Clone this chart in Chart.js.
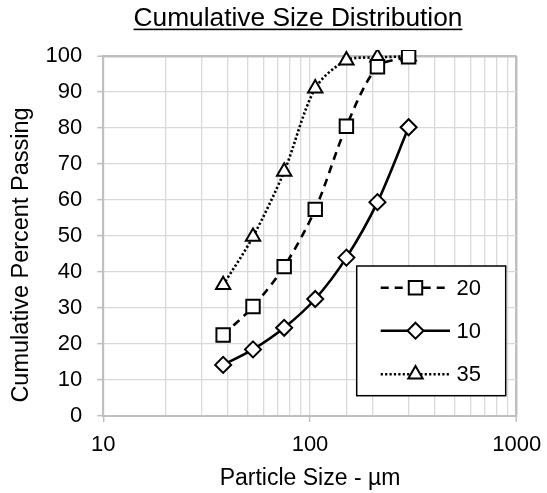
<!DOCTYPE html>
<html><head><meta charset="utf-8">
<script src="https://cdn.jsdelivr.net/npm/chart.js@4.4.1/dist/chart.umd.min.js"></script>
<style>html,body{margin:0;padding:0;background:#fff}#wrap{width:547px;height:493px;position:relative}</style>
</head><body><div id="wrap"><canvas id="c"></canvas></div>
<script>
// ---- data ----
const sizes = [38, 53, 75, 106, 150, 212, 300];          // particle size, µm
const seriesNames = ['20', '10', '35'];
const series20 = [22.5, 30.4, 41.5, 57.4, 80.5, 97.0, 99.8];
const series10 = [14.2, 18.5, 24.5, 32.5, 44.0, 59.4, 80.2];
const series35 = [36.4, 49.8, 67.9, 91.0, 98.8, 99.6, 99.9];
const xTickLabels = [10, 100, 1000];
const yMin = 0, yMax = 100, yStep = 10;
const chartTitle = 'Cumulative Size Distribution';
const xTitle = 'Particle Size - µm';
const yTitle = 'Cumulative Percent Passing';

const FONT = '"Liberation Sans", Arial, sans-serif';
const GRID = '#d9d9d9', AXIS = '#bfbfbf';

function pts(vals) { return sizes.map((x, i) => ({ x: x, y: vals[i] })); }

const styles = [
  { dash: [8, 6], point: 'rect', radius: 9.5 },
  { dash: [], point: 'rectRot', radius: 8 },
  { dash: [2.2, 2.2], point: 'triangle', radius: 8.3 }
];
const allSeries = [series20, series10, series35];

const datasets = allSeries.map((vals, i) => ({
  label: seriesNames[i],
  data: pts(vals),
  showLine: true,
  borderColor: '#000',
  borderWidth: 2.6,
  borderDash: styles[i].dash,
  tension: 0.3,
  pointStyle: styles[i].point,
  pointRadius: styles[i].radius,
  pointHoverRadius: styles[i].radius,
  pointBackgroundColor: '#fff',
  pointBorderColor: '#000',
  pointBorderWidth: 2,
  clip: 6
}));

function drawMarker(ctx, style, r, x, y) {
  ctx.beginPath();
  if (style === 'rect') {
    const s = Math.SQRT1_2 * r;
    ctx.rect(x - s, y - s, 2 * s, 2 * s);
  } else if (style === 'rectRot') {
    ctx.moveTo(x, y - r); ctx.lineTo(x + r, y); ctx.lineTo(x, y + r); ctx.lineTo(x - r, y); ctx.closePath();
  } else {
    const a = Math.PI / 6;
    ctx.moveTo(x, y - r);
    ctx.lineTo(x + r * Math.cos(a), y + r * Math.sin(a));
    ctx.lineTo(x - r * Math.cos(a), y + r * Math.sin(a));
    ctx.closePath();
  }
  ctx.fillStyle = '#fff'; ctx.fill();
  ctx.setLineDash([]); ctx.lineWidth = 2; ctx.strokeStyle = '#000'; ctx.stroke();
}

const decor = {
  id: 'decor',
  afterDraw(chart) {
    const ctx = chart.ctx;
    ctx.save();
    // title, underlined
    ctx.font = '26.3px ' + FONT;
    ctx.fillStyle = '#000';
    ctx.textAlign = 'center';
    ctx.textBaseline = 'alphabetic';
    const tx = 298, ty = 25.5;
    ctx.fillText(chartTitle, tx, ty);
    const w = ctx.measureText(chartTitle).width;
    ctx.fillRect(tx - w / 2, 28.6, w, 1.6);
    // y-axis title
    ctx.save();
    ctx.translate(22, 255);
    ctx.rotate(-Math.PI / 2);
    ctx.font = '23.5px ' + FONT;
    ctx.textBaseline = 'middle';
    ctx.fillText(yTitle, 0, 0);
    ctx.restore();
    // legend
    const bx = 356.7, by = 266, bw = 149, bh = 129.7;
    ctx.fillStyle = '#fff';
    ctx.fillRect(bx, by, bw, bh);
    ctx.lineWidth = 1.5; ctx.strokeStyle = '#000'; ctx.setLineDash([]);
    ctx.strokeRect(bx, by, bw, bh);
    const rows = [287.7, 330.7, 374.3];
    chart.data.datasets.forEach((ds, i) => {
      const y = rows[i];
      ctx.beginPath();
      ctx.setLineDash(ds.borderDash);
      ctx.lineWidth = ds.borderWidth;
      ctx.strokeStyle = '#000';
      ctx.moveTo(380.7, y); ctx.lineTo(450, y); ctx.stroke();
      drawMarker(ctx, ds.pointStyle, ds.pointRadius, 415.5, y);
      ctx.fillStyle = '#000';
      ctx.font = '22px ' + FONT;
      ctx.textAlign = 'left';
      ctx.textBaseline = 'middle';
      ctx.fillText(ds.label, 456.5, y + 1);
    });
    ctx.restore();
  }
};

new Chart(document.getElementById('c'), {
  type: 'scatter',
  data: { datasets: datasets },
  plugins: [decor],
  options: {
    responsive: true,
    maintainAspectRatio: false,
    animation: false,
    events: [],
    layout: { padding: { top: 56, right: 30.3, bottom: 0, left: 0 } },
    plugins: { legend: { display: false }, title: { display: false }, tooltip: { enabled: false } },
    scales: {
      x: {
        type: 'logarithmic',
        min: 10, max: 1000,
        afterFit(s) { s.height = 77; s.paddingLeft = 0; s.paddingRight = 0; },
        border: { color: AXIS, width: 2 },
        grid: {
          color: c => (c.tick && c.tick.value === 1000) ? AXIS : GRID,
          lineWidth: c => (c.tick && c.tick.value === 1000) ? 2.5 : 1.3,
          tickColor: c => (c.tick && xTickLabels.includes(c.tick.value)) ? AXIS : 'rgba(0,0,0,0)',
          tickLength: 6,
          tickWidth: 1.5
        },
        ticks: {
          autoSkip: false,
          maxRotation: 0,
          padding: 10,
          color: '#000',
          font: { family: FONT, size: 22 },
          callback: v => xTickLabels.includes(v) ? String(v) : ''
        },
        title: { display: true, text: xTitle, color: '#000', font: { family: FONT, size: 23 }, padding: { top: 0, bottom: 1 } }
      },
      y: {
        min: yMin, max: yMax,
        afterFit(s) { s.width = 103.3; },
        border: { color: AXIS, width: 2 },
        grid: {
          color: c => (c.tick && c.tick.value === yMax) ? AXIS : GRID,
          lineWidth: c => (c.tick && c.tick.value === yMax) ? 2.5 : 1.3,
          tickColor: AXIS,
          tickLength: 6,
          tickWidth: 1.5
        },
        ticks: {
          stepSize: yStep,
          padding: 15,
          color: '#000',
          font: { family: FONT, size: 22 }
        }
      }
    }
  }
});
</script></body></html>
